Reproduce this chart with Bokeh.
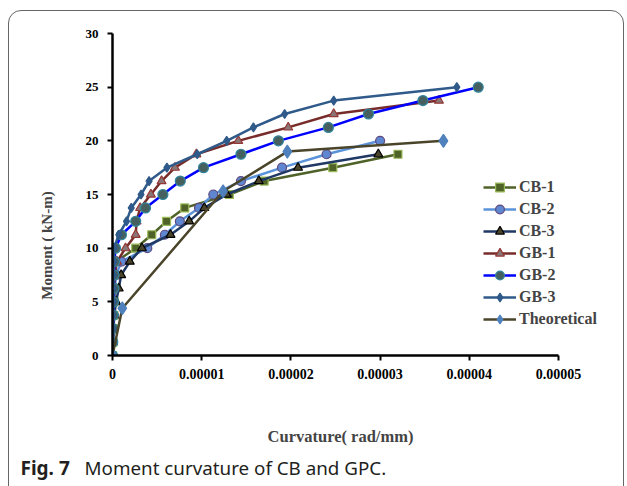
import math
from bokeh.plotting import figure
from bokeh.models import (Range1d, FixedTicker, CustomJSTickFormatter, Legend,
                          LegendItem, Label, InlineStyleSheet)
from bokeh.embed import file_html
from bokeh.resources import INLINE

# ---------------- data (curvature in rad/mm, moment in kN-m) ----------------
cb1_curv = [0, 0.005e-5, 0.01e-5, 0.015e-5, 0.02e-5, 0.025e-5, 0.03e-5, 0.04e-5,
            0.26e-5, 0.44e-5, 0.606e-5, 0.81e-5, 1.31e-5, 1.70e-5, 2.47e-5, 3.20e-5]
cb1_moment = [0, 1.25, 2.5, 3.75, 5, 6.25, 7.5, 8.75, 10, 11.25, 12.5, 13.75,
              15, 16.25, 17.5, 18.75]

cb2_curv = [0, 0.005e-5, 0.01e-5, 0.015e-5, 0.02e-5, 0.025e-5, 0.04e-5, 0.10e-5,
            0.39e-5, 0.587e-5, 0.755e-5, 0.97e-5, 1.13e-5, 1.44e-5, 1.90e-5,
            2.40e-5, 3.00e-5]
cb2_moment = [0, 1.25, 2.5, 3.75, 5, 6.25, 7.5, 8.75, 10, 11.25, 12.5, 13.75,
              15, 16.25, 17.5, 18.75, 20]

cb3_curv = [0, 0.005e-5, 0.01e-5, 0.02e-5, 0.04e-5, 0.07e-5, 0.097e-5, 0.194e-5,
            0.33e-5, 0.65e-5, 0.86e-5, 1.03e-5, 1.28e-5, 1.64e-5, 2.08e-5, 2.98e-5]
cb3_moment = [0, 1.25, 2.5, 3.75, 5, 6.25, 7.5, 8.75, 10, 11.25, 12.5, 13.75,
              15, 16.25, 17.5, 18.75]

gb1_curv = [0, 0.004e-5, 0.008e-5, 0.012e-5, 0.016e-5, 0.02e-5, 0.025e-5, 0.05e-5,
            0.146e-5, 0.26e-5, 0.27e-5, 0.31e-5, 0.43e-5, 0.55e-5, 0.70e-5,
            0.94e-5, 1.41e-5, 1.97e-5, 2.48e-5, 3.66e-5]
gb1_moment = [0, 1.25, 2.5, 3.75, 5, 6.25, 7.5, 8.75, 10, 11.25, 12.5, 13.75,
              15, 16.25, 17.5, 18.75, 20, 21.25, 22.5, 23.75]

gb2_curv = [0, 0.003e-5, 0.006e-5, 0.009e-5, 0.012e-5, 0.015e-5, 0.018e-5, 0.022e-5,
            0.034e-5, 0.10e-5, 0.26e-5, 0.37e-5, 0.565e-5, 0.76e-5, 1.02e-5,
            1.44e-5, 1.86e-5, 2.42e-5, 2.87e-5, 3.48e-5, 4.10e-5]
gb2_moment = [0, 1.25, 2.5, 3.75, 5, 6.25, 7.5, 8.75, 10, 11.25, 12.5, 13.75,
              15, 16.25, 17.5, 18.75, 20, 21.25, 22.5, 23.75, 25]

gb3_curv = [0, 0.003e-5, 0.005e-5, 0.007e-5, 0.009e-5, 0.011e-5, 0.013e-5, 0.015e-5,
            0.017e-5, 0.07e-5, 0.157e-5, 0.21e-5, 0.32e-5, 0.41e-5, 0.61e-5,
            0.95e-5, 1.28e-5, 1.58e-5, 1.93e-5, 2.48e-5, 3.86e-5]
gb3_moment = [0, 1.25, 2.5, 3.75, 5, 6.25, 7.5, 8.75, 10, 11.25, 12.5, 13.75,
              15, 16.25, 17.5, 18.75, 20, 21.25, 22.5, 23.75, 25]

theo_curv = [0, 0.11e-5, 1.24e-5, 1.96e-5, 3.71e-5]
theo_moment = [0, 4.4, 15.3, 19.0, 20.0]

series_names = ["CB-1", "CB-2", "CB-3", "GB-1", "GB-2", "GB-3", "Theoretical"]
x_ticks = [0, 0.00001, 0.00002, 0.00003, 0.00004, 0.00005]
y_ticks = [0, 5, 10, 15, 20, 25, 30]

series = [
    (cb1_curv, cb1_moment), (cb2_curv, cb2_moment), (cb3_curv, cb3_moment),
    (gb1_curv, gb1_moment), (gb2_curv, gb2_moment), (gb3_curv, gb3_moment),
    (theo_curv, theo_moment),
]

# ---------------- styles ----------------
styles = [
    dict(line="#4F6228", marker="square", fill="#4F6228", outline="#9BBB59", size=8),
    dict(line="#5B93DA", marker="circle", fill="#5F86D0", outline="#5E4A7E", size=9),
    dict(line="#1F3864", marker="triangle", fill="#4A452A", outline="#000000", size=9),
    dict(line="#772C2A", marker="triangle", fill="#8A7676", outline="#953735", size=9),
    dict(line="#0000FF", marker="circle", fill="#46605F", outline="#31859C", size=10),
    dict(line="#2F5A8A", marker="diamond", fill="#2F5A8A", outline="#2F5A8A", size=9),
    dict(line="#4A452A", marker="diamond", fill="#4F81BD", outline="#4F81BD", size=13),
]

SERIF = "Liberation Serif"
W, H = 627, 486
LEFT, TOP, BOTTOM = 112, 33, 131
AXIS_PX = 446                  # pixel length of the drawn x axis (0 .. 0.00005)
FRAME_H = H - TOP - BOTTOM
X_END = x_ticks[-1] * (W - LEFT) / AXIS_PX
Y_END = y_ticks[-1]


def px_x(px):
    """canvas pixel column -> x data coordinate (for placing texts)"""
    return (px - LEFT) / AXIS_PX * x_ticks[-1]


def px_y(py):
    """canvas pixel row -> y data coordinate (for placing texts)"""
    return (H - BOTTOM - py) / FRAME_H * Y_END


p = figure(width=W, height=H, output_backend="svg", toolbar_location=None,
           x_range=Range1d(0, X_END), y_range=Range1d(0, Y_END),
           min_border_left=LEFT, min_border_right=0, min_border_top=TOP,
           min_border_bottom=BOTTOM)
p.outline_line_color = None
p.grid.visible = False
p.background_fill_color = "white"
p.border_fill_color = "white"
p.stylesheets = [InlineStyleSheet(css="""
:host::after {
  content: ''; position: absolute; left: 8px; top: 10px;
  width: 616px; height: 520px; border: 1px solid #666666;
  border-radius: 13px; pointer-events: none; box-sizing: border-box;
}
""")]

for ax in (p.xaxis[0], p.yaxis[0]):
    ax.axis_line_width = 2.5
    ax.axis_line_color = "black"
    ax.major_tick_line_width = 2
    ax.major_tick_line_color = "black"
    ax.major_tick_out = 5
    ax.major_tick_in = 0
    ax.minor_tick_line_color = None
    ax.major_label_text_font = SERIF
    ax.major_label_text_font_style = "bold"
    ax.major_label_text_font_size = "13px"
    ax.major_label_text_color = "black"

p.xaxis.major_label_text_font_size = "14px"
p.xaxis.bounds = (x_ticks[0], x_ticks[-1])
p.xaxis.ticker = FixedTicker(ticks=x_ticks)
p.yaxis.ticker = FixedTicker(ticks=y_ticks)
p.xaxis.formatter = CustomJSTickFormatter(
    code="return tick == 0 ? '0' : tick.toFixed(5);")
p.xaxis.major_label_standoff = 8
p.yaxis.major_label_standoff = 9

items = []
for (cx, my), name, st in zip(series, series_names, styles):
    ln = p.line(cx, my, line_color=st["line"], line_width=2.5)
    sc = p.scatter(cx, my, marker=st["marker"], size=st["size"],
                   fill_color=st["fill"], line_color=st["outline"], line_width=1.2)
    items.append(LegendItem(label=name, renderers=[ln, sc]))

legend = Legend(items=items, location=(371, 25), orientation="vertical",
                background_fill_alpha=0, border_line_color=None,
                label_text_font=SERIF, label_text_font_style="bold",
                label_text_font_size="16px", label_standoff=3,
                glyph_width=33, glyph_height=22, label_height=22,
                spacing=0, padding=0, margin=0)
p.add_layout(legend, "center")

# Texts outside the frame: placed in side panels (so they are not clipped),
# positioned through the frame's scales.
p.add_layout(Label(x=px_x(46), y=px_y(245), text="Moment ( kN-m)",
                   angle=math.pi / 2, text_font=SERIF, text_font_style="bold",
                   text_font_size="15px", text_align="center",
                   text_baseline="middle"), "left")

p.add_layout(Label(x=px_x(340), y=px_y(436), text="Curvature( rad/mm)",
                   text_font=SERIF, text_font_style="bold", text_font_size="16.5px",
                   text_align="center", text_baseline="middle"), "below")

p.add_layout(Label(x=px_x(20), y=px_y(467), text="Fig. 7",
                   text_font="Noto Sans", text_font_style="bold",
                   text_font_size="19px", text_color="#231F20",
                   text_baseline="middle"), "below")
p.add_layout(Label(x=px_x(84), y=px_y(467),
                   text="Moment curvature of CB and GPC.", text_font="Noto Sans",
                   text_font_size="18.8px", text_color="#231F20",
                   text_baseline="middle"), "below")

open("out.html", "w").write(file_html(p, INLINE))
